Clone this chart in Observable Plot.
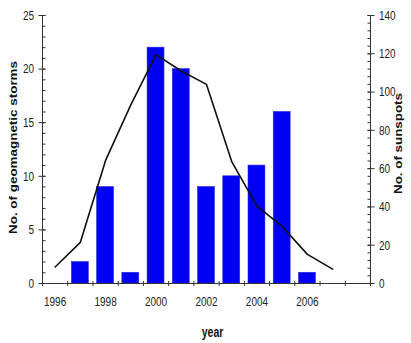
<!DOCTYPE html>
<html><head><meta charset="utf-8">
<script src="https://cdn.jsdelivr.net/npm/d3@7"></script>
<script src="https://cdn.jsdelivr.net/npm/@observablehq/plot@0.6"></script>
<style>body{margin:0;background:#fff} #chart{width:411px;height:343px}</style>
</head><body><div id="chart"></div>
<script>
// Data
const stormYears = [1997, 1998, 1999, 2000, 2001, 2002, 2003, 2004, 2005, 2006];
const storms = [2, 9, 1, 22, 20, 9, 10, 11, 16, 1];
const sunspotYears = [1996, 1997, 1998, 1999, 2000, 2001, 2002, 2003, 2004, 2005, 2006, 2007];
const sunspots = [8.6, 21.5, 64.3, 93.3, 119.6, 111.0, 104.0, 63.7, 40.4, 29.8, 15.2, 7.5];
const xTickLabels = [1996, 1998, 2000, 2002, 2004, 2006];
const leftTicks = [0, 5, 10, 15, 20, 25];
const rightTicks = [0, 20, 40, 60, 80, 100, 120, 140];
const leftLabel = "No. of geomagnetic storms";
const rightLabel = "No. of sunspots";
const xLabel = "year";

const yMax = 25, rMax = 140;
const toLeft = v => v * yMax / rMax;
const firstYear = 1996, lastYear = 2008;
const edges = d3.range(firstYear - 0.5, lastYear + 1, 1);
const half = 0.335;

const stormData = stormYears.map((y, i) => ({year: y, value: storms[i]}));
const spotData = sunspotYears.map((y, i) => ({year: y, value: sunspots[i]}));

const axisColor = "#333";
const plot = Plot.plot({
  width: 411, height: 343,
  marginLeft: 42, marginRight: 41, marginTop: 15, marginBottom: 60,
  style: {fontFamily: "'Liberation Sans', Arial, sans-serif", fontSize: "10px", background: "#fff", color: "#222"},
  x: {type: "linear", domain: [firstYear - 0.5, lastYear + 0.5]},
  y: {domain: [0, yMax]},
  marks: [
    Plot.rectY(stormData, {x1: d => d.year - half, x2: d => d.year + half, y: "value", fill: "#0000f6", stroke: "#2a2ad8", strokeWidth: 0.6}),
    Plot.line(spotData, {x: "year", y: d => toLeft(d.value), stroke: "#111", strokeWidth: 1.6}),
    // frame lines
    Plot.ruleX([firstYear - 0.5, lastYear + 0.5], {y1: 0, y2: yMax, stroke: axisColor}),
    Plot.ruleY([0], {x1: firstYear - 0.5, x2: lastYear + 0.5, stroke: axisColor, strokeWidth: 1.2}),
    // left axis
    Plot.axisY({anchor: "left", ticks: leftTicks, tickSize: 7, dx: 3.5, tickPadding: 5, label: null, stroke: axisColor}),
    Plot.axisY({anchor: "left", ticks: d3.range(0, yMax + 1, 1), tickSize: 3.5, dx: 3.5, tickFormat: () => "", label: null, stroke: axisColor}),
    // right axis
    Plot.axisY({anchor: "right", ticks: rightTicks.map(toLeft), tickFormat: v => String(Math.round(v * rMax / yMax)), tickSize: 7, dx: -3.5, tickPadding: 5, label: null, stroke: axisColor}),
    Plot.axisY({anchor: "right", ticks: d3.range(0, rMax + 1, 4).map(toLeft), tickSize: 3.5, dx: -3.5, tickFormat: () => "", label: null, stroke: axisColor}),
    // x axis
    Plot.axisX({ticks: edges, tickSize: 5, dy: -2, tickFormat: () => "", label: null, stroke: axisColor}),
    Plot.axisX({ticks: xTickLabels, tickSize: 0, tickPadding: 13, tickFormat: d => String(d), label: null}),
    // axis titles
    Plot.text([leftLabel], {frameAnchor: "left", rotate: -90, dx: -29, dy: -2, fontWeight: "bold", fontSize: 11, fill: "#111", className: "ylab-left"}),
    Plot.text([rightLabel], {frameAnchor: "right", rotate: -90, dx: 28, dy: -6, fontWeight: "bold", fontSize: 11, fill: "#111", className: "ylab-right"}),
    Plot.text([xLabel], {frameAnchor: "bottom", dx: 6, dy: 53, fontWeight: "bold", fontSize: 10.5, fill: "#111", className: "xlab"})
  ]
});
d3.select(plot).select(".ylab-left text").attr("text-anchor", "start").attr("x", -173 / 2).attr("textLength", 173).attr("lengthAdjust", "spacingAndGlyphs");
d3.select(plot).select(".ylab-right text").attr("text-anchor", "start").attr("x", -101 / 2).attr("textLength", 101).attr("lengthAdjust", "spacingAndGlyphs");
// taller, narrow-looking tick labels as in the reference
d3.select(plot).selectAll("g[aria-label$='tick label'] text, .xlab text").each(function() {
  const t = d3.select(this).attr("transform") || "";
  d3.select(this).attr("transform", t + " scale(1,1.35)");
});
document.getElementById("chart").appendChild(plot);
</script>
</body></html>
